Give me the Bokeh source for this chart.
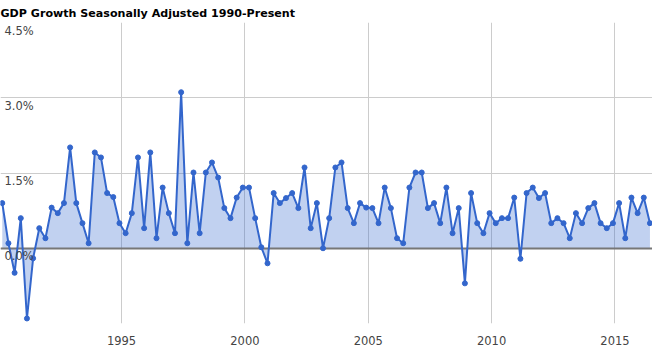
from bokeh.plotting import figure
from bokeh.models import FixedTicker, Range1d, Label, ColumnDataSource
from bokeh.embed import file_html
from bokeh.resources import INLINE

# Quarterly GDP growth (%), seasonally adjusted, 1990 Q1 .. 2016 Q2
years = list(range(1990, 2017))
growth = [
    0.90, 0.10, -0.49, 0.60,   # 1990
    -1.40, -0.20, 0.40, 0.20,  # 1991
    0.81, 0.70, 0.90, 2.01,    # 1992
    0.90, 0.50, 0.10, 1.91,    # 1993
    1.81, 1.10, 1.02, 0.50,    # 1994
    0.30, 0.70, 1.81, 0.40,    # 1995
    1.91, 0.20, 1.21, 0.70,    # 1996
    0.30, 3.11, 0.10, 1.51,    # 1997
    0.30, 1.51, 1.71, 1.41,    # 1998
    0.80, 0.60, 1.01, 1.21,    # 1999
    1.21, 0.60, 0.02, -0.30,   # 2000
    1.10, 0.90, 1.00, 1.10,    # 2001
    0.80, 1.61, 0.40, 0.90,    # 2002
    0.00, 0.60, 1.61, 1.71,    # 2003
    0.80, 0.50, 0.90, 0.81,    # 2004
    0.80, 0.50, 1.21, 0.80,    # 2005
    0.20, 0.10, 1.21, 1.51,    # 2006
    1.51, 0.80, 0.90, 0.50,    # 2007
    1.21, 0.30, 0.80, -0.70,   # 2008
    1.10, 0.50, 0.30, 0.70,    # 2009
    0.50, 0.60, 0.60, 1.01,    # 2010
    -0.21, 1.10, 1.21, 1.00,   # 2011
    1.10, 0.50, 0.60, 0.50,    # 2012
    0.20, 0.70, 0.50, 0.80,    # 2013
    0.90, 0.50, 0.40, 0.50,    # 2014
    0.90, 0.20, 1.01, 0.70,    # 2015
    1.01, 0.50,                # 2016
]
quarter_months = [3, 6, 9, 12]
dates = []
for y in years:
    for m in quarter_months:
        dates.append(y + (m - 1) / 12.0)
dates = dates[:len(growth)]

y_ticks = [-1.5, 0.0, 1.5, 3.0, 4.5]
y_tick_labels = ["0.0%", "1.5%", "3.0%", "4.5%"]
x_ticks = [1995, 2000, 2005, 2010, 2015]

src = ColumnDataSource(dict(x=dates, y=growth, z=[0.0] * len(growth)))

p = figure(width=652, height=357, output_backend="svg", toolbar_location=None,
           x_range=Range1d(1990.095, 2016.52), y_range=Range1d(-1.5, 4.5),
           min_border_left=0, min_border_right=0, min_border_top=22,
           min_border_bottom=34, outline_line_color=None,
           background_fill_color="white", border_fill_color="white")

p.title.text = "GDP Growth Seasonally Adjusted 1990-Present"
p.title.text_font = "DejaVu Sans"
p.title.text_font_size = "11.1px"
p.title.text_font_style = "bold"
p.title.text_color = "#000000"
p.title.align = "left"
p.title.offset = 0
p.title.standoff = 6

p.yaxis.visible = False
p.ygrid.ticker = FixedTicker(ticks=y_ticks)
p.ygrid.grid_line_color = "#cccccc"
p.ygrid.grid_line_width = 1

p.xaxis.ticker = FixedTicker(ticks=x_ticks)
p.xaxis.axis_line_color = None
p.xaxis.major_tick_line_color = None
p.xaxis.minor_tick_line_color = None
p.xaxis.major_label_text_font = "DejaVu Sans"
p.xaxis.major_label_text_font_size = "11.5px"
p.xaxis.major_label_text_color = "#444444"
p.xaxis.major_label_standoff = 6
p.xgrid.ticker = FixedTicker(ticks=x_ticks)
p.xgrid.grid_line_color = "#cccccc"
p.xgrid.grid_line_width = 1

p.varea(x="x", y1="z", y2="y", source=src, fill_color="#3366cc", fill_alpha=0.3)
p.hspan(y=[0.0], line_color="#777777", line_width=2)
p.line(x="x", y="y", source=src, line_color="#3366cc", line_width=2)
p.scatter(x="x", y="y", source=src, size=5, fill_color="#3366cc", line_color="#3366cc")

for v, t in zip(y_ticks[1:], y_tick_labels):
    p.add_layout(Label(x=4, x_units="screen", y=v, y_units="data", text=t,
                       text_font="DejaVu Sans", text_font_size="11.5px",
                       text_color="#444444", text_baseline="top", y_offset=-1))

open("out.html", "w").write(file_html(p, INLINE))
